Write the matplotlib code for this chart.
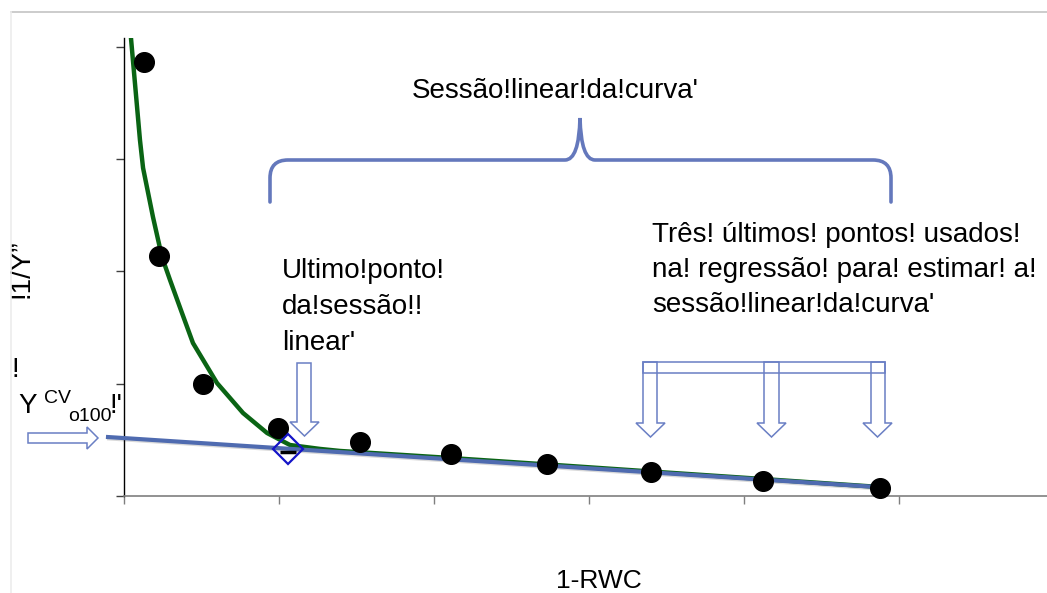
import matplotlib.pyplot as plt
import matplotlib.patheffects as pe
from matplotlib.patches import Polygon, PathPatch, Rectangle
from matplotlib.path import Path

plt.rcParams['font.family'] = ['Liberation Sans', 'DejaVu Sans']

# --- data (x = 1-RWC, y = 1/Y) ---
pts_x = [0.129, 0.226, 0.510, 0.994, 1.523, 2.110, 2.729, 3.400, 4.123, 4.877]
pts_y = [3.865, 2.137, 0.997, 0.606, 0.481, 0.374, 0.285, 0.214, 0.134, 0.071]

# fitted curve (green)
curve_x = [0.045, 0.103, 0.123, 0.187, 0.245, 0.297, 0.374, 0.445, 0.600, 0.768,
           0.923, 1.071, 1.265, 1.394, 2.110, 2.729, 3.400, 4.123, 4.877]
curve_y = [4.078, 3.170, 2.921, 2.484, 2.128, 1.923, 1.630, 1.362, 1.006, 0.739,
           0.561, 0.454, 0.419, 0.401, 0.338, 0.281, 0.218, 0.151, 0.080]

# regression line through the last three points (blue)
reg_x = [-0.103, 4.858]
reg_y = [0.525, 0.080]

# last point of the linear section
last_x = [1.058]
last_y = [0.419]

xticks = [0, 1, 2, 3, 4, 5]
yticks = [0, 1, 2, 3, 4]

GREEN = '#0a6414'
BLUE = '#4f6bb0'
OUTLINE = '#6a7fc4'

fig = plt.figure(figsize=(10.47, 5.93), dpi=100)
ax = fig.add_axes([124 / 1047, 97 / 593, 923 / 1047, 458 / 593], zorder=1)

ax.plot(curve_x, curve_y, color=GREEN, lw=3.2, zorder=2, solid_joinstyle='round')
ax.plot(reg_x, reg_y, color=BLUE, lw=3, zorder=3, clip_on=False,
        path_effects=[pe.SimpleLineShadow(offset=(0.8, -1), alpha=0.15), pe.Normal()])
ax.scatter(pts_x, pts_y, s=200, color='black', zorder=4, clip_on=False)
ax.plot(last_x, last_y, marker='D', ms=15.5, mfc='none', mec='#1414c8', mew=1.6,
        ls='none', zorder=5)
ax.plot(last_x, [v - 0.027 for v in last_y], marker='_', ms=11, mew=2.5,
        color='black', ls='none', zorder=4)

ax.set_xlim(0, 923 / 155)
ax.set_ylim(0, 458 / 112.3)
ax.set_xticks(xticks)
ax.set_yticks(yticks)
ax.set_xticklabels([])
ax.set_yticklabels([])
ax.tick_params(axis='x', direction='out', length=6, width=1, color='#7f7f7f')
ax.tick_params(axis='y', direction='out', length=6, width=1, color='#404040')
ax.spines['top'].set_visible(False)
ax.spines['right'].set_visible(False)
ax.spines['bottom'].set_color('#7f7f7f')
ax.spines['bottom'].set_linewidth(1.2)
ax.spines['left'].set_color('black')
ax.spines['left'].set_linewidth(1)

ax.set_xlabel('1-RWC', fontsize=19)
ax.xaxis.set_label_coords(0.515, -0.16)
ax.set_ylabel('!1/Y\u201d', fontsize=20)
ax.yaxis.set_label_coords(-0.097, 0.496)

# --- overlay in pixel coordinates for the annotations ---
ov = fig.add_axes([0, 0, 1, 1], zorder=3)
ov.set_xlim(0, 1047)
ov.set_ylim(593, 0)
ov.axis('off')
ov.patch.set_alpha(0)

# light frame
ov.plot([11, 1047], [12, 12], color='#c4c4c4', lw=1.2)
ov.plot([11, 11], [12, 593], color='#ececec', lw=1.2)

# brace over the linear section
verts = [(270, 202), (270, 178), (270, 160), (288, 160), (565, 160), (579, 160),
         (580, 118), (581, 160), (595, 160), (873, 160), (891, 160), (891, 178),
         (891, 202)]
codes = [Path.MOVETO, Path.LINETO, Path.CURVE3, Path.CURVE3, Path.LINETO,
         Path.CURVE3, Path.CURVE3, Path.CURVE3, Path.CURVE3, Path.LINETO,
         Path.CURVE3, Path.CURVE3, Path.LINETO]
ov.add_patch(PathPatch(Path(verts, codes), fill=False, edgecolor='#6478bc', lw=2.6,
                       capstyle='round'))


def down_arrow(x0, x1, top, neck, h0, h1, tip):
    xm = (h0 + h1) / 2
    return [(x0, top), (x1, top), (x1, neck), (h1, neck), (xm, tip), (h0, neck), (x0, neck)]


arrow_kw = dict(closed=True, fill=False, edgecolor=OUTLINE, lw=1.1)
# arrow pointing at the intercept
ov.add_patch(Polygon([(28, 433), (87, 433), (87, 427), (98, 438), (87, 449), (87, 443),
                      (28, 443)], **arrow_kw))
# arrow to the last point of the linear section
ov.add_patch(Polygon(down_arrow(297, 311, 363, 422, 290, 319, 436), **arrow_kw))
# bracket with three arrows
ov.add_patch(Rectangle((643, 362), 242, 11, fill=False, edgecolor=OUTLINE, lw=1.1))
ov.add_patch(Polygon(down_arrow(643, 657, 362, 423, 636, 665, 437), **arrow_kw))
ov.add_patch(Polygon(down_arrow(764, 779, 362, 423, 757, 786, 437), **arrow_kw))
ov.add_patch(Polygon(down_arrow(871, 885, 362, 423, 863, 892, 437), **arrow_kw))

# texts
tkw = dict(fontsize=20, va='baseline', ha='left', color='black')
ov.text(412, 98, "Sessão!linear!da!curva'", **tkw)
ov.text(282, 278, 'Ultimo!ponto!', **tkw)
ov.text(282, 314, 'da!sessão!!', **tkw)
ov.text(282, 350, "linear'", **tkw)
ov.text(652, 242, 'Três! últimos! pontos! usados!', **tkw)
ov.text(652, 277, 'na! regressão! para! estimar! a!', **tkw)
ov.text(652, 312, "sessão!linear!da!curva'", **tkw)
ov.text(12, 377, '!', **tkw)
ov.text(18, 413, 'Y', **tkw)
ov.text(44, 403, 'CV', fontsize=14, va='baseline', ha='left')
ov.text(68, 421, 'o100', fontsize=14, va='baseline', ha='left')
ov.text(110, 413, "!'", **tkw)

fig.savefig('out.png', dpi=100, facecolor='white')
